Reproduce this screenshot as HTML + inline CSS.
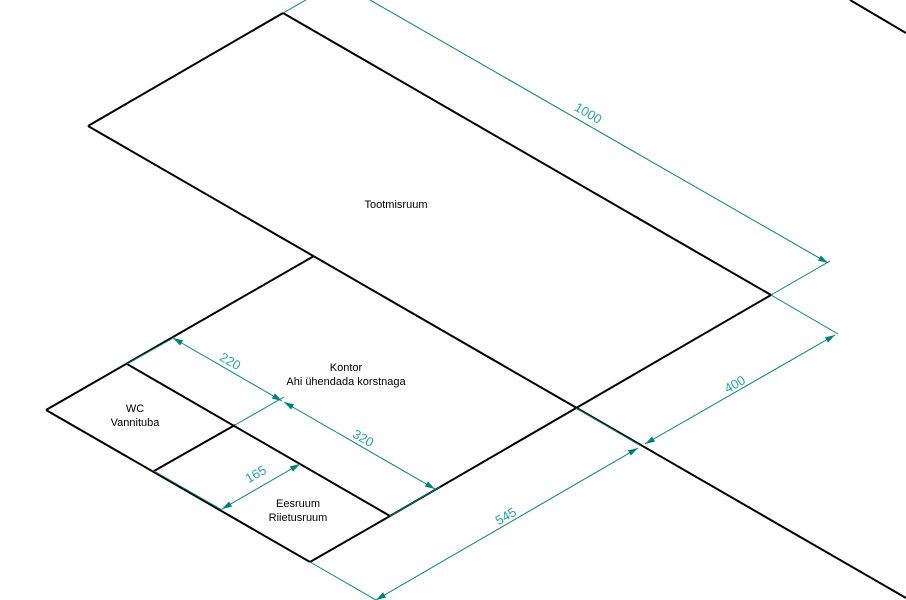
<!DOCTYPE html>
<html><head><meta charset="utf-8"><style>
html,body{margin:0;padding:0;background:#fff;width:906px;height:600px;overflow:hidden}
svg{display:block}
text{font-family:"Liberation Sans",sans-serif}
.b{stroke:#000;stroke-width:2;fill:none}
.t{stroke:#00807a;stroke-width:1;fill:none}
.lb{font-size:11px;fill:#000;text-anchor:middle}
.dl{font-size:13px;fill:#29a3b0;text-anchor:middle}
</style></head><body>
<svg width="906" height="600" viewBox="0 0 906 600" xmlns="http://www.w3.org/2000/svg">
<defs>
<marker id="a" viewBox="0 0 10 6" refX="10" refY="3" markerWidth="10" markerHeight="6" orient="auto-start-reverse" markerUnits="userSpaceOnUse">
<path d="M0,0 L10,3 L0,6 z" fill="#00807a"/></marker>
</defs>
<!-- black lines -->
<line class="b" x1="88" y1="126" x2="283" y2="13"/>
<line class="b" x1="283" y1="13" x2="771" y2="295"/>
<line class="b" x1="771" y1="295" x2="390" y2="516"/>
<line class="b" x1="88" y1="126" x2="906" y2="598"/>
<line class="b" x1="850" y1="0" x2="906" y2="33"/>
<line class="b" x1="314" y1="256" x2="46" y2="410"/>
<line class="b" x1="46" y1="410" x2="310" y2="562"/>
<line class="b" x1="310" y1="562" x2="390" y2="516"/>
<line class="b" x1="127" y1="364" x2="390" y2="516"/>
<line class="b" x1="154" y1="471" x2="235" y2="425"/>
<!-- teal extension lines -->
<line class="t" x1="283" y1="13" x2="306" y2="0"/>
<line class="t" x1="771" y1="295" x2="830" y2="261"/>
<line class="t" x1="771" y1="295" x2="838" y2="334"/>
<line class="t" x1="310" y1="562" x2="376" y2="600"/>
<line class="t" x1="576" y1="408" x2="641" y2="446"/>
<line class="t" x1="127" y1="364" x2="175" y2="337"/>
<line class="t" x1="235" y1="425" x2="284" y2="397"/>
<line class="t" x1="390" y1="516" x2="440" y2="487"/>
<line class="t" x1="154" y1="471" x2="222" y2="510"/>
<!-- dimension lines -->
<line class="t" x1="370" y1="0" x2="828" y2="263" marker-end="url(#a)"/>
<line class="t" x1="645" y1="444" x2="835" y2="335" marker-start="url(#a)" marker-end="url(#a)"/>
<line class="t" x1="376" y1="600" x2="638" y2="448" marker-start="url(#a)" marker-end="url(#a)"/>
<line class="t" x1="173" y1="338" x2="282" y2="401" marker-start="url(#a)" marker-end="url(#a)"/>
<line class="t" x1="284" y1="402" x2="435" y2="489" marker-start="url(#a)" marker-end="url(#a)"/>
<line class="t" x1="222" y1="509" x2="300" y2="464" marker-start="url(#a)" marker-end="url(#a)"/>
<!-- dimension labels -->
<text class="dl" transform="translate(586,117) rotate(30)">1000</text>
<text class="dl" transform="translate(737,388) rotate(-30)">400</text>
<text class="dl" transform="translate(508,520) rotate(-30)">545</text>
<text class="dl" transform="translate(228,365) rotate(30)">220</text>
<text class="dl" transform="translate(361,442) rotate(30)">320</text>
<text class="dl" transform="translate(258,478) rotate(-30)">165</text>
<!-- room labels -->
<text class="lb" x="396" y="208">Tootmisruum</text>
<text class="lb" x="346" y="371">Kontor</text>
<text class="lb" x="346" y="385">Ahi ühendada korstnaga</text>
<text class="lb" x="135" y="412">WC</text>
<text class="lb" x="135" y="426">Vannituba</text>
<text class="lb" x="298" y="507">Eesruum</text>
<text class="lb" x="298" y="521">Riietusruum</text>
</svg>
</body></html>
